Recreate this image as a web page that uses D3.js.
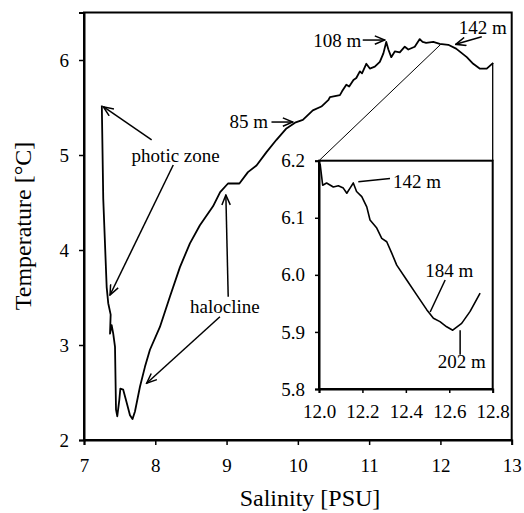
<!DOCTYPE html>
<html>
<head>
<meta charset="utf-8">
<script src="https://cdn.jsdelivr.net/npm/d3@7"></script>
<style>
  html, body { margin: 0; padding: 0; background: #fff; }
  svg text { font-family: "Liberation Serif", "Times New Roman", Tinos, "DejaVu Serif", "Noto Serif", serif !important; fill: #000; }
</style>
</head>
<body>
<svg id="chart" width="524" height="513"></svg>
<script>
// ---- data ----
const mainSalinity = [7.25, 7.27, 7.318, 7.34, 7.374, 7.365, 7.388, 7.41, 7.435, 7.449, 7.467, 7.495, 7.51, 7.55, 7.60, 7.645, 7.68, 7.715, 7.785, 7.855, 7.925, 8.065, 8.206, 8.346, 8.486, 8.626, 8.81, 8.91, 9.02, 9.18, 9.30, 9.42, 9.56, 9.70, 9.84, 9.96, 10.07, 10.21, 10.33, 10.43, 10.45, 10.59, 10.62, 10.68, 10.72, 10.78, 10.82, 10.87, 10.90, 10.96, 11.01, 11.08, 11.15, 11.20, 11.24, 11.27, 11.31, 11.36, 11.43, 11.50, 11.55, 11.64, 11.71, 11.75, 11.80, 11.90, 11.99, 12.11, 12.22, 12.37, 12.46, 12.55, 12.65, 12.74];
const mainTemperature = [5.52, 4.54, 3.61, 3.44, 3.32, 3.12, 3.21, 3.12, 2.98, 2.32, 2.25, 2.42, 2.54, 2.53, 2.39, 2.26, 2.22, 2.30, 2.56, 2.77, 2.95, 3.19, 3.51, 3.82, 4.07, 4.26, 4.46, 4.61, 4.70, 4.70, 4.82, 4.89, 5.03, 5.16, 5.28, 5.34, 5.37, 5.47, 5.51, 5.58, 5.61, 5.63, 5.67, 5.74, 5.72, 5.79, 5.81, 5.88, 5.86, 5.96, 5.91, 5.93, 5.98, 6.07, 6.19, 6.11, 6.03, 6.09, 6.08, 6.14, 6.11, 6.14, 6.22, 6.19, 6.18, 6.19, 6.17, 6.16, 6.12, 6.03, 5.96, 5.91, 5.91, 5.97];

const insetSalinity = [12.005, 12.017, 12.035, 12.066, 12.089, 12.112, 12.128, 12.143, 12.158, 12.173, 12.197, 12.220, 12.235, 12.266, 12.289, 12.312, 12.335, 12.358, 12.404, 12.450, 12.496, 12.527, 12.557, 12.588, 12.616, 12.657, 12.696, 12.742];
const insetTemperature = [6.195, 6.157, 6.161, 6.154, 6.156, 6.152, 6.143, 6.152, 6.161, 6.146, 6.137, 6.119, 6.096, 6.082, 6.064, 6.058, 6.038, 6.017, 5.991, 5.965, 5.939, 5.924, 5.918, 5.909, 5.903, 5.915, 5.936, 5.968];

const mainXTicks = [7, 8, 9, 10, 11, 12, 13];
const mainYTicks = [2, 3, 4, 5, 6];
const insetXTicks = [12.0, 12.2, 12.4, 12.6, 12.8];
const insetYTicks = [5.8, 5.9, 6.0, 6.1, 6.2];

const xTitle = "Salinity [PSU]";
const yTitle = "Temperature [°C]";

// ---- drawing ----
const FONT = '"Liberation Serif", "Times New Roman", Tinos, "DejaVu Serif", "Noto Serif", serif';
const svg = d3.select("#chart");
svg.append("rect").attr("width", 524).attr("height", 513).attr("fill", "#fff");

const defs = svg.append("defs");
defs.append("marker")
  .attr("id", "arrow")
  .attr("viewBox", "0 0 12 10")
  .attr("refX", 11).attr("refY", 5)
  .attr("markerWidth", 12).attr("markerHeight", 10)
  .attr("markerUnits", "userSpaceOnUse")
  .attr("orient", "auto")
  .append("path")
  .attr("d", "M1,0.8 L11,5 L1,9.2")
  .attr("fill", "none").attr("stroke", "#000").attr("stroke-width", 1.5);

const x = d3.scaleLinear().domain([7, 13]).range([84, 511.7]);
const y = d3.scaleLinear().domain([2, 6.5]).range([440, 12.5]);

const xi = d3.scaleLinear().domain([12.0, 12.8]).range([319, 492.7]);
const yi = d3.scaleLinear().domain([5.8, 6.2]).range([389, 160.7]);

const fontSize = 19;

function styleAxis(g) {
  g.attr("font-family", FONT).attr("font-size", fontSize);
  g.selectAll("path.domain").attr("stroke", "#000").attr("stroke-width", 2);
  g.selectAll(".tick line").attr("stroke", "#000").attr("stroke-width", 1.5);
  g.selectAll(".tick text").attr("font-family", FONT).attr("font-size", fontSize).attr("fill", "#000");
}

// main frame
svg.append("rect")
  .attr("x", x(7)).attr("y", y(6.5))
  .attr("width", x(13) - x(7)).attr("height", y(2) - y(6.5))
  .attr("fill", "none").attr("stroke", "#000").attr("stroke-width", 2);

svg.append("g")
  .attr("transform", `translate(0,${y(2)})`)
  .call(d3.axisBottom(x).tickValues(mainXTicks).tickSize(5).tickPadding(14).tickFormat(d3.format("d")))
  .call(styleAxis);

svg.append("g")
  .attr("transform", `translate(${x(7)},0)`)
  .call(d3.axisLeft(y).tickValues(mainYTicks).tickSize(5).tickPadding(10).tickFormat(d3.format("d")))
  .call(styleAxis);

// main curve
const mainPts = mainSalinity.map((s, i) => [s, mainTemperature[i]]);
svg.append("path")
  .datum(mainPts)
  .attr("d", d3.line().x(d => x(d[0])).y(d => y(d[1])))
  .attr("fill", "none").attr("stroke", "#000").attr("stroke-width", 1.8)
  .attr("stroke-linejoin", "round");

// connecting lines from inset to main curve
svg.append("line")
  .attr("x1", xi(12.0)).attr("y1", yi(6.2))
  .attr("x2", x(12.005)).attr("y2", y(6.165))
  .attr("stroke", "#000").attr("stroke-width", 1);
svg.append("line")
  .attr("x1", xi(12.8)).attr("y1", yi(6.2))
  .attr("x2", xi(12.8)).attr("y2", y(5.968))
  .attr("stroke", "#000").attr("stroke-width", 1.3);

// inset
const inset = svg.append("g");
inset.append("rect")
  .attr("x", xi(12.0)).attr("y", yi(6.2))
  .attr("width", xi(12.8) - xi(12.0)).attr("height", yi(5.8) - yi(6.2))
  .attr("fill", "#fff").attr("stroke", "#000").attr("stroke-width", 2);

inset.append("g")
  .attr("transform", `translate(0,${yi(5.8)})`)
  .call(d3.axisBottom(xi).tickValues(insetXTicks).tickSize(4).tickPadding(12).tickFormat(d3.format(".1f")))
  .call(styleAxis);
inset.append("g")
  .attr("transform", `translate(${xi(12.0)},0)`)
  .call(d3.axisLeft(yi).tickValues(insetYTicks).tickSize(4).tickPadding(10).tickFormat(d3.format(".1f")))
  .call(styleAxis);

const insetPts = insetSalinity.map((s, i) => [s, insetTemperature[i]]);
inset.append("path")
  .datum(insetPts)
  .attr("d", d3.line().x(d => xi(d[0])).y(d => yi(d[1])))
  .attr("fill", "none").attr("stroke", "#000").attr("stroke-width", 1.6)
  .attr("stroke-linejoin", "round");

// ---- annotations ----
function label(txt, px, py, anchor) {
  svg.append("text").attr("x", px).attr("y", py).attr("dy", "0.35em")
    .attr("text-anchor", anchor).attr("font-family", FONT).attr("font-size", fontSize).text(txt);
}
function arrow(x1, y1, x2, y2, head) {
  const l = svg.append("line").attr("x1", x1).attr("y1", y1).attr("x2", x2).attr("y2", y2)
    .attr("stroke", "#000").attr("stroke-width", 1.5);
  if (head) l.attr("marker-end", "url(#arrow)");
}

// main plot
label("108 m", x(10.89), y(6.21), "end");
arrow(x(10.91), y(6.21), x(11.22), y(6.21), true);
label("142 m", x(12.257), y(6.347), "start");
arrow(x(12.58), y(6.245), x(12.215), y(6.165), true);
label("85 m", x(9.58), y(5.35), "end");
arrow(x(9.63), y(5.347), x(9.93), y(5.347), true);
label("photic zone", x(8.286), y(5.0), "middle");
arrow(x(7.949), y(5.158), x(7.271), y(5.508), true);
arrow(x(8.252), y(4.895), x(7.365), y(3.526), true);
label("halocline", x(8.977), y(3.403), "middle");
arrow(x(9.023), y(3.508), x(8.99), y(4.579), true);
arrow(x(8.907), y(3.298), x(7.879), y(2.597), true);

// inset
label("142 m", xi(12.341), yi(6.163), "start");
arrow(xi(12.327), yi(6.169), xi(12.181), yi(6.163), false);
label("184 m", xi(12.600), yi(6.008), "middle");
arrow(xi(12.581), yi(5.991), xi(12.512), yi(5.935), false);
label("202 m", xi(12.658), yi(5.848), "middle");
arrow(xi(12.650), yi(5.903), xi(12.650), yi(5.860), false);

// axis titles
svg.append("text").attr("x", 310).attr("y", 498).attr("dy", "0.35em")
  .attr("text-anchor", "middle").attr("font-family", FONT).attr("font-size", 24).text(xTitle);
svg.append("text").attr("transform", "translate(23,226) rotate(-90)").attr("dy", "0.35em")
  .attr("text-anchor", "middle").attr("font-family", FONT).attr("font-size", 24).text(yTitle);
</script>
</body>
</html>
